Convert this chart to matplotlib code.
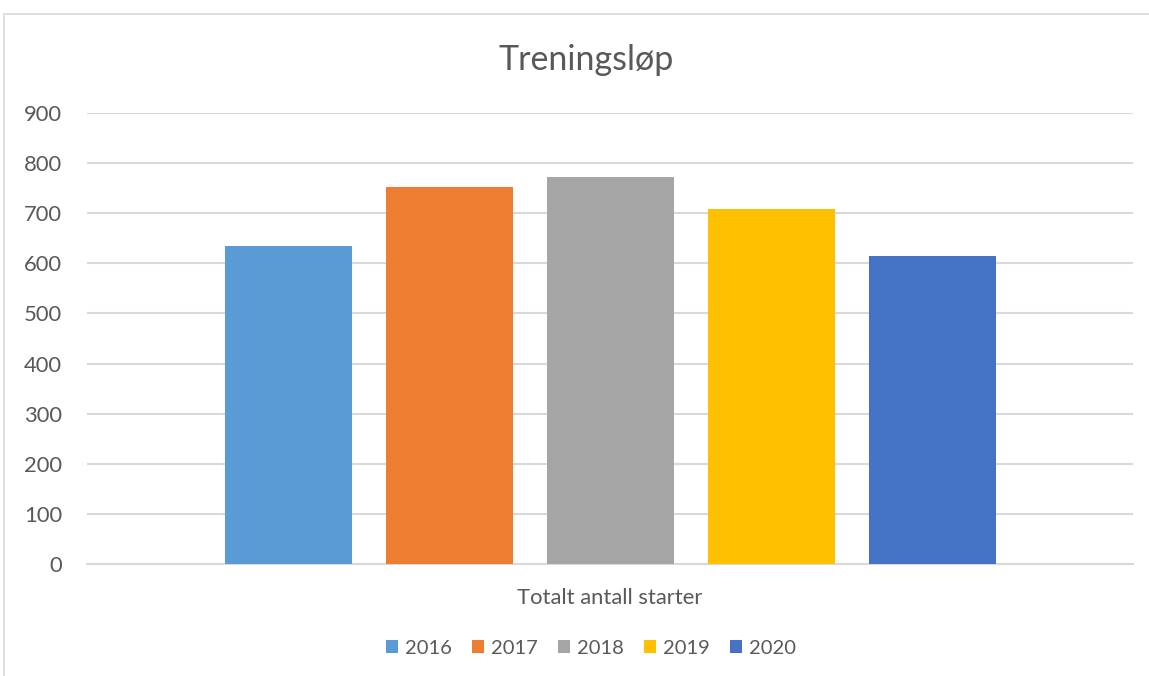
import matplotlib.pyplot as plt
from matplotlib.patches import Rectangle
import numpy as np

plt.rcParams['font.family'] = ['Lato', 'DejaVu Sans']

category = "Totalt antall starter"
years = ["2016", "2017", "2018", "2019", "2020"]
starts = [635, 753, 773, 709, 615]
colors = ["#5b9bd5", "#ed7d31", "#a5a5a5", "#ffc000", "#4472c4"]

text_col = "#595959"
grid_col = "#d9d9d9"

fig = plt.figure(figsize=(11.49, 6.76), dpi=100)
ax = fig.add_axes([87 / 1149, 1 - 564 / 676, (1133 - 87) / 1149, (564 - 113) / 676])

# figure border like the excel chart area
fig.patches.append(Rectangle((4 / 1149, -0.01), 1.2, 1 - 14 / 676 + 0.01,
                             transform=fig.transFigure, fill=False,
                             edgecolor=grid_col, linewidth=1.2))

step = 161 / 1046
width = 127 / 1046
for i, (yr, val, c) in enumerate(zip(years, starts, colors)):
    ax.bar((i - 2) * step, val, width=width, color=c, label=yr, zorder=3)

ax.set_xlim(-0.5, 0.5)
ax.set_ylim(0, 900)
ax.set_yticks(np.arange(0, 901, 100))
ax.set_xticks([0])
ax.set_xticklabels([category])
ax.grid(axis='y', color=grid_col, linewidth=1.5, zorder=0)
for s in ['top', 'right', 'left']:
    ax.spines[s].set_visible(False)
ax.spines['bottom'].set_color(grid_col)
ax.spines['bottom'].set_linewidth(1.5)
ax.tick_params(axis='both', length=0, labelsize=15.8, colors=text_col)
ax.tick_params(axis='y', pad=18)
ax.tick_params(axis='x', pad=17)

fig.text(586 / 1149, 1 - 60 / 676, "Treningsløp", ha='center', va='center',
         fontsize=24.5, color=text_col)

ax.legend(loc='center', bbox_to_anchor=(591 / 1149, 1 - 648 / 676),
          bbox_transform=fig.transFigure, ncol=5, frameon=False,
          fontsize=14.5, labelcolor=text_col, handlelength=0.6,
          handleheight=0.6, handletextpad=0.35, columnspacing=1.0)

fig.savefig("out.png", dpi=100)
